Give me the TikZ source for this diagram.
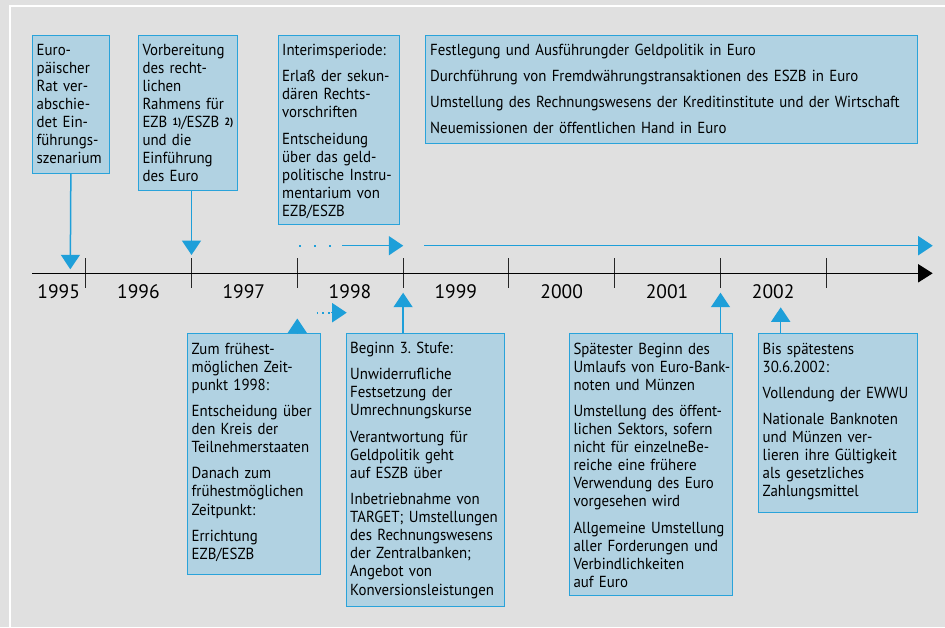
\documentclass[tikz,border=0pt]{standalone}
\usepackage{fontspec}
\setmainfont[FakeStretch=0.93]{PT Sans}
\newfontfamily\yearfont{PT Sans}
\usetikzlibrary{arrows.meta}
\definecolor{bggrey}{HTML}{E0E0E0}
\definecolor{boxfill}{HTML}{B1D2E2}
\definecolor{boxline}{HTML}{2AA3DA}
\definecolor{arrblue}{HTML}{1E9FD9}
\newcommand{\sfn}[1]{\raisebox{2pt}{\fontsize{10.5}{12}\selectfont\bfseries #1}}
\begin{document}
\frenchspacing
\begin{tikzpicture}[x=1pt,y=-1pt,
  box/.style={draw=boxline, fill=boxfill, line width=1pt, inner sep=0pt, anchor=north west},
  txt/.style={inner sep=0pt, anchor=base west, text width=#1, align=left,
              font=\fontsize{16}{18.1}\selectfont\frenchspacing},
  txt/.default=170pt,
  yearlbl/.style={inner sep=0pt, anchor=base, font=\yearfont\fontsize{19.5}{21}\selectfont},
  tickline/.style={draw=black!85, line width=1pt},
  bluearrow/.style={draw=arrblue, line width=1.5pt, -{Triangle[length=14.5pt,width=19pt]}},
  blackarrow/.style={draw=black, line width=1.5pt, -{Triangle[length=14.5pt,width=18pt]}},
  dots/.style={draw=arrblue, line width=2pt}
]
\fill[bggrey] (0,0) rectangle (945,627);
\useasboundingbox (0,0) rectangle (945,627);
\draw[white, line width=2.3pt] (10,627) -- (10,6.2) -- (945,6.2);

% time axis
\foreach \x in {85.7,191.5,297.3,403.1,508.9,614.7,720.5,826.3}
  \draw[tickline] (\x,258.3) -- (\x,288.3);
\coordinate (axs) at (32,273.3);
\coordinate (axe) at (932.7,273.3);
\draw[blackarrow] (axs) -- (axe);

\node[yearlbl] (y1995) at (58.7,298.3) {1995};
\node[yearlbl] (y1996) at (138.4,298.3) {1996};
\node[yearlbl] (y1997) at (243.8,298.3) {1997};
\node[yearlbl] (y1998) at (350.0,298.3) {1998};
\node[yearlbl] (y1999) at (455.8,298.3) {1999};
\node[yearlbl] (y2000) at (561.7,298.3) {2000};
\node[yearlbl] (y2001) at (667.0,298.3) {2001};
\node[yearlbl] (y2002) at (773.2,298.3) {2002};

% upper boxes
\node[box, minimum width=76.7pt, minimum height=137.7pt] (b1) at (32,35) {};
\node[txt] (t1) at (36.5,55) {Euro-\\päischer\\Rat ver-\\abschie-\\det Ein-\\führungs-\\szenarium};

\node[box, minimum width=98.7pt, minimum height=155pt] (b2) at (138.3,35) {};
\node[txt] (t2) at (142.3,55) {Vorbereitung\\des recht-\\lichen\\Rahmens für\\EZB \sfn{1)}/ESZB \sfn{2)}\\und die\\Einführung\\des Euro};

\node[box, minimum width=121.3pt, minimum height=189.3pt] (b3) at (278,35) {};
\node[txt] (t3) at (282,55) {Interimsperiode:\\[8.4pt]Erlaß der sekun-\\dären Rechts-\\vorschriften\\[8.4pt]Entscheidung\\über das geld-\\politische Instru-\\mentarium von\\EZB/ESZB};

\node[box, minimum width=492pt, minimum height=107.7pt] (b4) at (425.3,35) {};
\node[txt=600pt] (t4) at (430,55) {Festlegung und Ausführungder Geldpolitik in Euro\\[7.9pt]Durchführung von Fremdwährungstransaktionen des ESZB in Euro\\[7.9pt]Umstellung des Rechnungswesens der Kreditinstitute und der Wirtschaft\\[7.9pt]Neuemissionen der öffentlichen Hand in Euro};

% lower boxes
\node[box, minimum width=132.7pt, minimum height=240.7pt] (b5) at (187.3,333.3) {};
\node[txt] (t5) at (191.5,354) {Zum frühest-\\möglichen Zeit-\\punkt 1998:\\[8.1pt]Entscheidung über\\den Kreis der\\Teilnehmerstaaten\\[8.1pt]Danach zum\\frühestmöglichen\\Zeitpunkt:\\[8.1pt]Errichtung\\EZB/ESZB};

\node[box, minimum width=158pt, minimum height=272.7pt] (b6) at (346,333.3) {};
\node[txt] (t6) at (350,353.5) {Beginn 3. Stufe:\\[8.1pt]Unwiderrufliche\\Festsetzung der\\Umrechnungskurse\\[8.1pt]Verantwortung für\\Geldpolitik geht\\auf ESZB über\\[8.1pt]Inbetriebnahme von\\TARGET; Umstellungen\\des Rechnungswesens\\der Zentralbanken;\\Angebot von\\Konversionsleistungen};

\node[box, minimum width=163pt, minimum height=261.7pt] (b7) at (569.3,333.3) {};
\node[txt] (t7) at (573.3,354) {Spätester Beginn des\\Umlaufs von Euro-Bank-\\noten und Münzen\\[8.1pt]Umstellung des öffent-\\lichen Sektors, sofern\\nicht für einzelneBe-\\reiche eine frühere\\Verwendung des Euro\\vorgesehen wird\\[8.1pt]Allgemeine Umstellung\\aller Forderungen und\\Verbindlichkeiten\\auf Euro};

\node[box, minimum width=159pt, minimum height=178.4pt] (b8) at (758.3,333.3) {};
\node[txt] (t8) at (762.5,354) {Bis spätestens\\30.6.2002:\\[8.1pt]Vollendung der EWWU\\[8.1pt]Nationale Banknoten\\und Münzen ver-\\lieren ihre Gültigkeit\\als gesetzliches\\Zahlungsmittel};

% arrows
\coordinate (p1) at (70.3,269.3);
\coordinate (p2) at (191.5,255);
\coordinate (p5) at (297.3,318.5);
\coordinate (p6) at (403.1,292.7);
\coordinate (p7) at (720.5,292.7);
\coordinate (p8) at (780.7,307.3);
\draw[bluearrow] (b1.south) -- (p1);
\draw[bluearrow] (p2 |- b2.south) -- (p2);
\draw[bluearrow] (p5 |- b5.north) -- (p5);
\draw[bluearrow] (p6 |- b6.north) -- (p6);
\draw[bluearrow] (p7 |- b7.north) -- (p7);
\draw[bluearrow] (p8 |- b8.north) -- (p8);

% interim arrows
\coordinate (d1s) at (299,245.7);
\coordinate (d1e) at (332,245.7);
\draw[dots, dash pattern=on 2pt off 13pt] (d1s) -- (d1e);
\coordinate (a1s) at (342,245.7);
\coordinate (a1e) at (403.3,245.7);
\draw[bluearrow] (a1s) -- (a1e);
\coordinate (a2s) at (424.3,245.7);
\coordinate (a2e) at (932.7,245.7);
\draw[bluearrow] (a2s) -- (a2e);
\coordinate (d2s) at (316.5,312.7);
\coordinate (d2e) at (330,312.7);
\draw[dots, line width=1.6pt, dash pattern=on 1.6pt off 4.2pt] (d2s) -- (d2e);
\coordinate (a3s) at (331,312.7);
\coordinate (a3e) at (346.7,312.7);
\draw[bluearrow] (a3s) -- (a3e);
\end{tikzpicture}
\end{document}
